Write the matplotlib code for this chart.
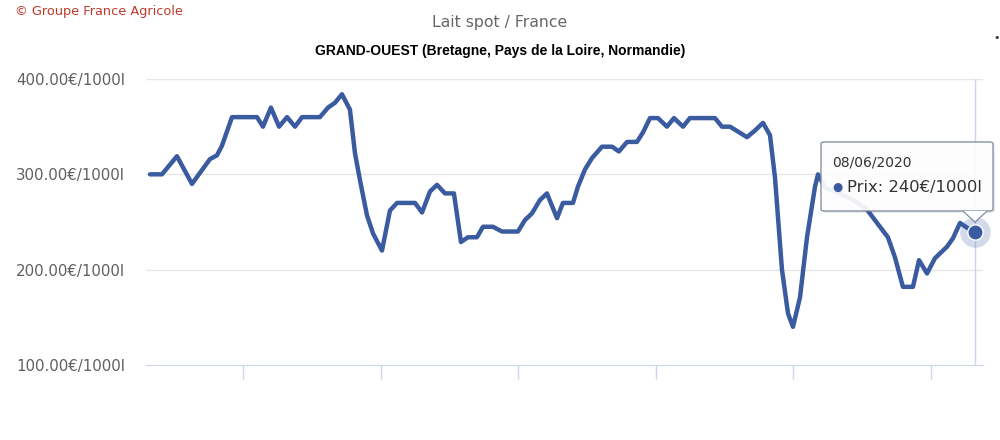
import matplotlib
matplotlib.use("Agg")
import matplotlib.pyplot as plt
from matplotlib.patches import FancyBboxPatch, Polygon

# Lait spot, Grand-Ouest : date (annee decimale) et prix en EUR / 1000 l
annees = [
    2014.324, 2014.411, 2014.520, 2014.629, 2014.760, 2014.811, 2014.847, 2014.920,
    2015.102, 2015.145, 2015.203, 2015.262, 2015.320, 2015.378, 2015.429, 2015.559,
    2015.618, 2015.668, 2015.719, 2015.777, 2015.814, 2015.850, 2015.901, 2015.945,
    2016.010, 2016.068, 2016.119, 2016.250, 2016.301, 2016.359, 2016.410, 2016.468,
    2016.533, 2016.584, 2016.635, 2016.700, 2016.744, 2016.817, 2016.882, 2016.998,
    2017.049, 2017.100, 2017.158, 2017.209, 2017.282, 2017.325, 2017.398, 2017.434,
    2017.485, 2017.536, 2017.609, 2017.682, 2017.732, 2017.791, 2017.863, 2017.907,
    2017.958, 2018.016, 2018.081, 2018.132, 2018.198, 2018.248, 2018.430, 2018.481,
    2018.539, 2018.663, 2018.721, 2018.779, 2018.830, 2018.866, 2018.917, 2018.961,
    2018.997, 2019.048, 2019.099, 2019.157, 2019.179, 2019.230, 2019.339, 2019.448,
    2019.535, 2019.629, 2019.687, 2019.738, 2019.796, 2019.869, 2019.913, 2019.971,
    2020.029, 2020.116, 2020.160, 2020.211, 2020.262, 2020.320,
]
prix = [
    300, 300, 319, 290, 316, 320, 330, 360,
    360, 350, 370, 350, 360, 350, 360, 360,
    370, 375, 384, 368, 322, 294, 257, 238,
    220, 262, 270, 270, 260, 282, 289, 280,
    280, 229, 234, 234, 245, 245, 240, 240,
    252, 259, 273, 280, 254, 270, 270, 287,
    305, 317, 329, 329, 324, 334, 334, 344,
    359, 359, 350, 359, 350, 359, 359, 350,
    350, 339, 346, 354, 341, 297, 200, 154,
    140, 171, 234, 287, 300, 286, 280, 272,
    263, 245, 234, 213, 182, 182, 210, 196,
    212, 224, 233, 249, 244, 240,
]
y_ticks = [100, 200, 300, 400]
x_ticks = [2015, 2016, 2017, 2018, 2019, 2020]
date_tooltip = "08/06/2020"

W, H = 1000, 440
bleu = "#3a5ba0"


def fx(x):
    return x / W


def fy(y):
    return 1 - y / H


fig = plt.figure(figsize=(W / 100, H / 100), dpi=100)
ax = fig.add_axes([fx(146), fy(365), fx(983) - fx(146), fy(79) - fy(365)])

ax.plot(annees, prix, color=bleu, lw=3.2, solid_joinstyle="round",
        solid_capstyle="round", clip_on=False, zorder=3)

ax.set_xlim(2014.295, 2020.378)
ax.set_ylim(100, 400)
ax.set_yticks(y_ticks)
ax.set_yticklabels([f"{v:.2f}€/1000l" for v in y_ticks])
ax.set_xticks(x_ticks)
ax.set_xticklabels([])
ax.tick_params(axis="y", length=0, pad=15, labelsize=10.8, labelcolor="#606060")
ax.tick_params(axis="x", length=10, width=1, color="#ccd6eb", direction="out")
for v in y_ticks[1:]:
    ax.axhline(v, color="#e6e6e6", lw=1, zorder=1)
for s in ["top", "right", "left"]:
    ax.spines[s].set_visible(False)
ax.spines["bottom"].set_color("#ccd6eb")

# crosshair sur le dernier point
ax.axvline(annees[-1], color="#ccd6eb", lw=1, zorder=2)

# point survole + halo
ax.plot(annees[-1], prix[-1], "o", ms=22, color=bleu, alpha=0.22,
        mec="none", clip_on=False, zorder=4)
ax.plot(annees[-1], prix[-1], "o", ms=11, color=bleu, mec="white",
        mew=1, clip_on=False, zorder=5)

# titres
fig.text(fx(15), fy(12), "© Groupe France Agricole", color="#c0392b",
         fontsize=9.3, va="center", ha="left")
fig.text(0.5, fy(22), "Lait spot / France", color="#666666",
         fontsize=11.3, va="center", ha="center")
fig.text(0.5, fy(51), "GRAND-OUEST (Bretagne, Pays de la Loire, Normandie)",
         color="black", fontsize=10, fontweight="bold", va="center",
         ha="center", family="Liberation Sans")
# petit point du bouton d'export, en haut a droite
fig.text(fx(997), fy(38), "•", color="#333333", fontsize=8,
         va="center", ha="center")

# tooltip
bx0, by0, bx1, by1 = 821, 142, 993, 211
ombre = FancyBboxPatch((fx(bx0 + 2), fy(by1 + 2)), fx(bx1 - bx0), fy(by0) - fy(by1),
                       boxstyle="round,pad=0,rounding_size=0.004",
                       transform=fig.transFigure, fc="black", ec="none",
                       alpha=0.08, zorder=6)
fig.patches.append(ombre)
boite = FancyBboxPatch((fx(bx0), fy(by1)), fx(bx1 - bx0), fy(by0) - fy(by1),
                       boxstyle="round,pad=0,rounding_size=0.004",
                       transform=fig.transFigure, fc="white", ec="#7f8a9e",
                       lw=1, alpha=0.92, zorder=7)
fig.patches.append(boite)
pointe = Polygon([(fx(963), fy(by1)), (fx(975), fy(222)), (fx(987), fy(by1))],
                 closed=False, transform=fig.transFigure, fc="white",
                 ec="#7f8a9e", lw=1, zorder=8)
fig.patches.append(pointe)
fig.patches.append(Polygon([(fx(964), fy(by1 + 0.2)), (fx(975), fy(221)),
                            (fx(986), fy(by1 + 0.2))], closed=True,
                           transform=fig.transFigure, fc="white", ec="none",
                           zorder=8.5))
fig.text(fx(832), fy(162), date_tooltip, color="#333333", fontsize=10,
         va="center", ha="left", zorder=9)
fig.text(fx(832), fy(187), "●", color=bleu, fontsize=8.5, va="center",
         ha="left", zorder=9)
fig.text(fx(847), fy(187), f"Prix: {prix[-1]}€/1000l", color="#333333",
         fontsize=11.8, va="center", ha="left", zorder=9)

fig.savefig("out.png", dpi=100, facecolor="white")
